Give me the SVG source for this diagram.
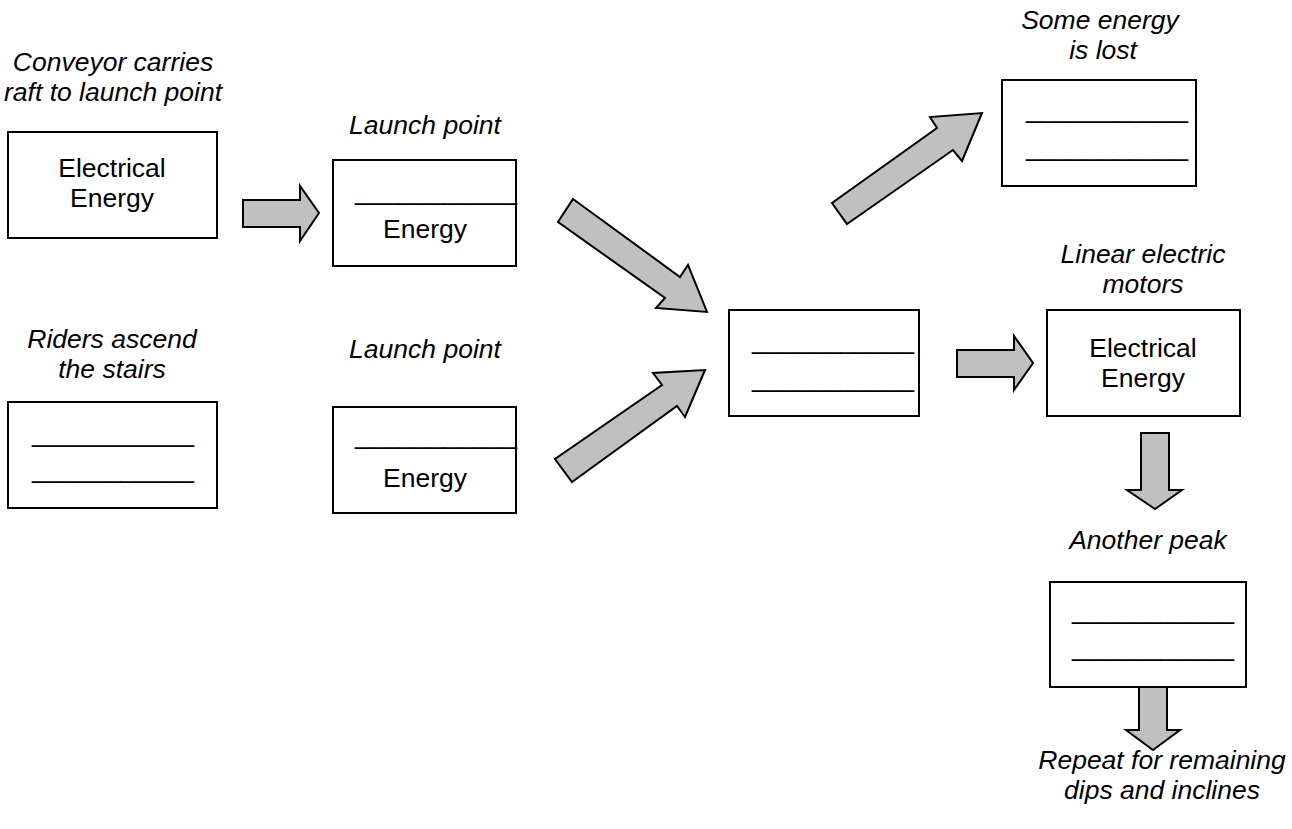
<svg xmlns="http://www.w3.org/2000/svg" width="1292" height="829" viewBox="0 0 1292 829">
<style>
.box{fill:#fff;stroke:#000;stroke-width:2}
.arr{fill:#c0c0c0;stroke:#000;stroke-width:2;stroke-linejoin:miter}
text{font-family:"Liberation Sans",Arial,sans-serif;font-size:26.5px;fill:#000;text-anchor:middle}
.it{font-style:italic}
</style>
<rect width="1292" height="829" fill="#fff"/>
<g id="connectors">
<polygon class="arr" points="243,200 300,200 300,186 319,213 300,241 300,227 243,227"/>
<polygon class="arr" points="573,199 680,277 688,265 707,312 656,308 665,298 558,222"/>
<polygon class="arr" points="572,482 677,406 685,417 705,370 653,373 662,385 555,459"/>
<polygon class="arr" points="847,224 953,150 962,161 982,113 930,117 937,128 832,203"/>
<polygon class="arr" points="957,350 1014,350 1014,336 1033,363 1014,390 1014,377 957,377"/>
<polygon class="arr" points="1141,433 1169,433 1169,490 1182,490 1155,509 1127,490 1141,490"/>
<polygon class="arr" points="1139,673 1167,673 1167,730 1180,730 1153,750 1126,730 1139,730"/>
</g>
<g id="conveyor">
<text class="it" x="113" y="71">Conveyor carries</text>
<text class="it" x="113" y="101">raft to launch point</text>
<rect class="box" x="8" y="132" width="209" height="106"/>
<text x="112" y="177">Electrical</text>
<text x="112" y="207">Energy</text>
</g>
<g id="launch1">
<text class="it" x="425" y="134">Launch point</text>
<rect class="box" x="333" y="160" width="183" height="106"/>
<text x="436" y="200">___________</text>
<text x="425" y="238">Energy</text>
</g>
<g id="riders">
<text class="it" x="112" y="348">Riders ascend</text>
<text class="it" x="112" y="378">the stairs</text>
<rect class="box" x="8" y="402" width="209" height="106"/>
<text x="113" y="442">___________</text>
<text x="113" y="478">___________</text>
</g>
<g id="launch2">
<text class="it" x="425" y="358">Launch point</text>
<rect class="box" x="333" y="407" width="183" height="106"/>
<text x="436" y="444">___________</text>
<text x="425" y="487">Energy</text>
</g>
<g id="center">
<rect class="box" x="729" y="310" width="190" height="106"/>
<text x="833" y="349">___________</text>
<text x="833" y="387">___________</text>
</g>
<g id="lost">
<text class="it" x="1100" y="29">Some energy</text>
<text class="it" x="1103" y="59">is lost</text>
<rect class="box" x="1002" y="80" width="194" height="106"/>
<text x="1107" y="118">___________</text>
<text x="1107" y="156">___________</text>
</g>
<g id="motors">
<text class="it" x="1143" y="263">Linear electric</text>
<text class="it" x="1143" y="293">motors</text>
<rect class="box" x="1047" y="310" width="193" height="106"/>
<text x="1143" y="357">Electrical</text>
<text x="1143" y="387">Energy</text>
</g>
<g id="peak">
<text class="it" x="1148" y="549">Another peak</text>
<rect class="box" x="1050" y="582" width="196" height="105"/>
<text x="1153" y="619">___________</text>
<text x="1153" y="656">___________</text>
</g>
<g id="repeat">
<text class="it" x="1162" y="769">Repeat for remaining</text>
<text class="it" x="1162" y="799">dips and inclines</text>
</g>
</svg>
